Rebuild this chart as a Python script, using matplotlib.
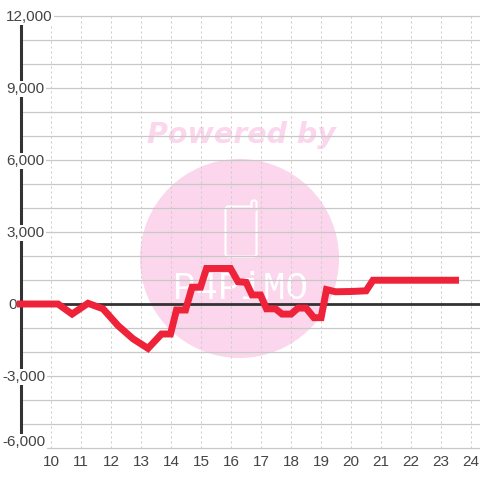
import matplotlib
matplotlib.use("Agg")
import matplotlib.pyplot as plt
from matplotlib.patches import Circle, FancyBboxPatch
from matplotlib.transforms import offset_copy

plt.rcParams['font.family'] = ['Liberation Sans', 'DejaVu Sans']

# values
hours = [9, 10.25, 10.72, 11.25, 11.75, 12.25, 12.75, 13.25, 13.7, 14.0, 14.2, 14.5,
         14.72, 15.0, 15.2, 16.0, 16.25, 16.52, 16.72, 17.0, 17.2, 17.5, 17.72, 18.02,
         18.25, 18.52, 18.78, 19.02, 19.2, 19.5, 20.0, 20.52, 20.75, 23.5]
balance = [0, 0, -420, 30, -200, -900, -1450, -1850, -1250, -1250, -250, -250,
           700, 700, 1480, 1480, 930, 900, 375, 375, -200, -200, -420, -420,
           -170, -170, -570, -570, 600, 510, 520, 550, 990, 990]
x_ticks = list(range(10, 25))
y_grid = list(range(-6000, 13000, 1000))
y_ticks = [12000, 9000, 6000, 3000, 0, -3000, -6000]
y_label_left = [6, 6, 6, 6, 8, 2, 2]
y_label_shift = [-1, -1, -1, -1, -1, -1, 6]

fig = plt.figure(figsize=(4.8, 4.8), dpi=100)

# watermark sits underneath, laid out in pixels from the top left
bg = fig.add_axes([0, 0, 1, 1], zorder=0)
bg.set_xlim(0, 480)
bg.set_ylim(480, 0)
bg.axis('off')
pink = '#fbd6ec'
bg.add_patch(Circle((239.5, 258.5), 99.5, color=pink, lw=0))
bg.text(241.5, 135, 'Powered by', family='DejaVu Sans', weight='bold', style='italic',
        fontsize=20.5, color=pink, ha='center', va='center')
# phone outline with the little aerial
bg.add_patch(FancyBboxPatch((225.5, 206.5), 31, 50, boxstyle='round,pad=0,rounding_size=3',
                            fc='none', ec='white', lw=1.5))
bg.add_patch(FancyBboxPatch((251, 200), 6, 12, boxstyle='round,pad=0,rounding_size=2.5',
                            fc=pink, ec='none'))
bg.plot([251.5, 251.5, 252.5, 255.5, 256.5, 256.5], [207, 202, 200.5, 200.5, 202, 208],
        color='white', lw=1.5)
bg.text(240, 289, 'P4PiMO', family='Liberation Mono', fontsize=27, color='white',
        ha='center', va='center')

ax = fig.add_axes([0, 0, 1, 1], zorder=1)
ax.patch.set_alpha(0)
ax.set_xlim(10 - 50.5 / 30, 10 + 429.5 / 30)
ax.set_ylim(-6000 - 32 / 24 * 1000, 12000 + 16 / 24 * 1000)
for s in ax.spines.values():
    s.set_visible(False)
ax.set_xticks([])
ax.set_yticks([])

for v in y_grid:
    ax.plot([9, 25], [v, v], color='#c8c8c8', lw=0.9, zorder=1, solid_capstyle='butt')
for t in x_ticks:
    ax.plot([t, t], [-6000, 12000], color='#cccccc', lw=0.75, ls=(0, (2, 2.8)), zorder=1)

ax.plot([9, 9], [-6000, 12000], color='#333333', lw=2.2, zorder=2, solid_capstyle='butt')
ax.plot([9, 25], [0, 0], color='#333333', lw=2.0, zorder=2, solid_capstyle='butt')

# y labels have a white box that cuts the axis and the grid
for v, left, shift in zip(y_ticks, y_label_left, y_label_shift):
    tr = offset_copy(ax.get_yaxis_transform(), fig=fig, x=left, y=shift, units='dots')
    ax.text(0, v, f'{v:,}', transform=tr, ha='left', va='center', fontsize=11, color='#444444',
            zorder=3, bbox=dict(fc='white', ec='none', pad=1.0))
for t in x_ticks:
    ax.annotate(str(t), (t, -6000), xytext=(0.5, -14), textcoords='offset pixels',
                ha='center', va='center', fontsize=11, color='#444444', zorder=3)

ax.plot(hours, balance, color='#ee2238', lw=5.0, zorder=4,
        solid_joinstyle='miter', solid_capstyle='projecting')

fig.savefig('out.png', dpi=100)
